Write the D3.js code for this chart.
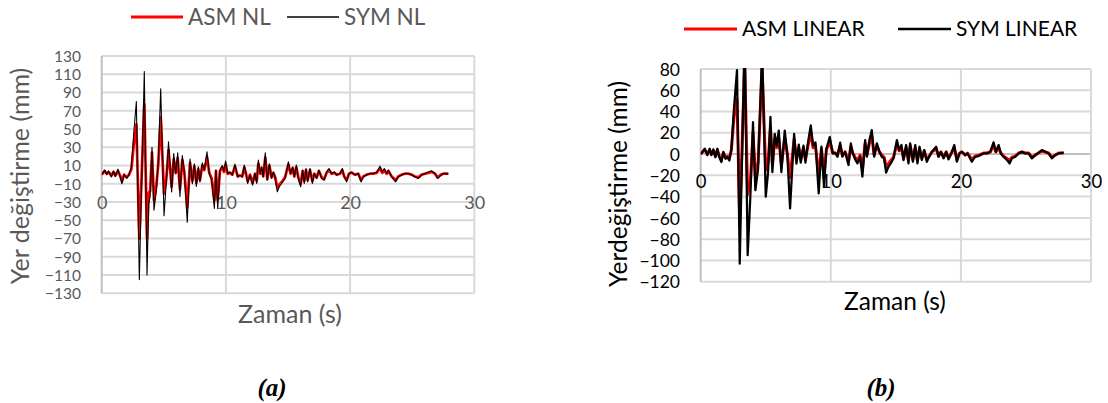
<!DOCTYPE html>
<html>
<head>
<meta charset="utf-8">
<script src="https://cdn.jsdelivr.net/npm/d3@7"></script>
<style>
  html, body { margin: 0; padding: 0; background: #fff; }
  svg { display: block; }
</style>
</head>
<body>
<svg id="chart" width="1108" height="403"></svg>
<script>
// ---------------- DATA ----------------
// Chart (a): nonlinear displacement time history
const timeA = [
  0, 0.24, 0.4, 0.55, 0.78, 0.95, 1.1, 1.31, 1.48, 1.63,
  1.8, 2.01, 2.2, 2.39, 2.6, 2.79, 3.03, 3.43, 3.65, 3.78,
  3.9, 4.05, 4.21, 4.4, 4.56, 4.75, 5.02, 5.2, 5.38, 5.63,
  5.8, 5.96, 6.12, 6.3, 6.49, 6.65, 6.89, 7.11, 7.3, 7.46,
  7.62, 7.78, 7.91, 8.1, 8.26, 8.48, 8.66, 8.85, 9.07, 9.2,
  9.34, 9.52, 9.71, 9.85, 9.98, 10.14, 10.33, 10.52, 10.73, 10.95,
  11.13, 11.32, 11.48, 11.62, 11.75, 11.94, 12.15, 12.34, 12.48, 12.61,
  12.77, 12.88, 13.01, 13.17, 13.33, 13.5, 13.68, 13.82, 13.95, 14.14,
  14.3, 14.49, 14.76, 15.03, 15.21, 15.38, 15.51, 15.67, 15.83, 16.02,
  16.18, 16.31, 16.45, 16.58, 16.77, 16.96, 17.12, 17.31, 17.49, 17.71,
  17.9, 18.11, 18.3, 18.51, 18.73, 18.92, 19.19, 19.37, 19.53, 19.72,
  19.91, 20.12, 20.39, 20.66, 20.88, 21.06, 21.33, 21.6, 21.87, 22.14,
  22.41, 22.59, 22.75, 22.94, 23.08, 23.35, 23.67, 23.88, 24.15, 24.42,
  24.69, 24.96, 25.22, 25.49, 25.76, 26.03, 26.3, 26.57, 26.84, 27.05,
  27.32, 27.51, 27.91
];
const symNL = [
  0, 5, 0, 4, -2.5, 4, -2, 6, -2, -10,
  0, -4, 0, 8.5, 49, 80, -115, 113, -110, -32,
  -24, 30, -39, -17, 16, 94, -45, -8, 36, -19,
  23, 1, 24, -24, 21, 3, -52, 17, -10, 12,
  -13, 8.5, -8, 13, 5, 25, 1, -6, -37, 5,
  -37, 5, 10, 4, 15, 1, 3, -0.5, 11.5, -2.4,
  -0.5, -2.4, 10.4, 1.3, -9.7, -0.5, -11.5, 1.3, -9.7, 16,
  1.3, 8.6, -2.4, 24, -6, 12, -4.2, 3, -2.4, -18.8,
  -13.3, -9.7, -4.2, 14, 1.3, 8.6, -2.4, 10.4, -4.2, -13.3,
  4.9, -9.7, 6.8, -7.9, 6.8, -9.7, 1.3, -4.2, 4.9, -4.2,
  -6, 3, 6.8, 1.3, 3, -0.5, 1.3, 6.8, -2.4, -7.9,
  1.3, 3, -0.5, 1.3, -7.9, -2.4, -0.5, 1.3, 1.3, 3,
  9.3, 3, 6.8, 1.3, 4.9, -2.4, -7.9, -2.4, -0.5, 1.3,
  1.3, -0.5, -2.4, -4.2, -0.5, 1.3, 3, 4.2, 1.3, -4.2,
  -0.5, 1.3, 0.6
];
const asmNL = [
  0, 4, 1, 3, -1, 3, -1, 4, -1, -7,
  0, -3, 0, 6, 35, 55, -70, 77, -70, -20,
  -18, 24, -28, -12, 12, 63, -21, -5, 27, -13,
  17, 2, 18, -16, 16, 3, -36, 13, -7, 9,
  -9, 6, -6, 10, 5, 19, 2, -4, -28, 4,
  -28, 4, 8, 3, 11, 1, 2, 0, 9, -2,
  -1, -2, 8, 1, -7, 0, -9, 1, -7, 12,
  1, 7, -2, 19, -5, 10, -3, 2, -2, -14,
  -11, -8, -3, 11, 1, 7, -2, 8, -3, -10,
  4, -7, 5, -6, 5, -7, 1, -3, 4, -3,
  -5, 2, 5, 1, 2, 0, 1, 5, -2, -6,
  1, 2, 0, 1, -6, -2, 0, 1, 1, 2,
  7, 2, 5, 1, 4, -2, -6, -2, 0, 1,
  1, 0, -2, -3, 0, 1, 2, 3, 1, -3,
  0, 1, 1
];

// Chart (b): linear displacement time history
const timeB = [
  0, 0.31, 0.51, 0.69, 0.82, 0.97, 1.13, 1.28, 1.43, 1.59,
  1.74, 1.9, 2.05, 2.2, 2.36, 2.56, 2.79, 3.0, 3.38, 3.61,
  3.82, 4.02, 4.2, 4.41, 4.72, 5.0, 5.18, 5.36, 5.51, 5.69,
  5.84, 6.0, 6.2, 6.46, 6.66, 6.87, 7.18, 7.36, 7.54, 7.69,
  7.9, 8.05, 8.25, 8.46, 8.64, 8.82, 9.07, 9.28, 9.48, 9.66,
  9.92, 10.15, 10.33, 10.51, 10.72, 10.89, 11.1, 11.36, 11.54, 11.69,
  11.87, 12.05, 12.25, 12.43, 12.64, 12.77, 12.97, 13.15, 13.33, 13.54,
  13.74, 13.92, 14.1, 14.25, 14.43, 14.61, 14.82, 15.08, 15.25, 15.43,
  15.59, 15.79, 15.97, 16.1, 16.31, 16.49, 16.66, 16.82, 17.0, 17.18,
  17.38, 17.56, 17.77, 18.1, 18.28, 18.46, 18.67, 18.87, 19.05, 19.31,
  19.49, 19.69, 19.9, 20.08, 20.33, 20.51, 20.84, 21.1, 21.36, 21.74,
  22.0, 22.26, 22.51, 22.69, 22.9, 23.07, 23.28, 23.54, 23.74, 23.92,
  24.18, 24.44, 24.69, 24.95, 25.2, 25.46, 25.72, 25.97, 26.23, 26.49,
  26.74, 27.0, 27.25, 27.51, 27.9
];
const symLinear = [
  0, 5, -1, 5, -1, 4.4, -3, 5, -3, -7.5,
  2, -4.4, -3, -6, 5, 43, 79, -103, 112, -95,
  -39, 30, -34, -14, 98, -40, -17, 35, -17, 19,
  8, 22, -17, 22, -1, -51, 19, -9, 9, -8,
  8, -8, 11, 27, 8, 11, -37, 7, -31, 5,
  16, 0.6, 1.3, -2.5, 10.7, -2.5, 2.2, -10.3, 10, 0.6,
  -5, -8.8, -2.5, -21.3, 13.2, -2.5, 13.2, 22.6, -2.5, 10,
  2.2, -2.5, -4, -17.5, -12, -8.8, -4, 13.2, 3.8, 8.5,
  -5.6, 8.5, -8.8, 10, -7.2, 8.5, -8.8, 6.9, -5.6, 3.8,
  -7.2, -2.5, 2.2, 6.9, -2.5, 2.2, -4, 2.2, -5, 2.2,
  8.5, -7.2, 0.6, 2.2, -0.9, 0.6, -7.2, -2.5, -1.9, 0.6,
  0.6, 2.2, 11, 2.2, 8.5, 0.6, -2.5, -5.6, -8.8, -4,
  -2.5, 0.6, 2.2, 0.6, 0.6, -4, -0.9, 1.3, 3.8, 2.2,
  0.6, -4, -0.9, 0.6, 1.3
];
const asmLinear = [
  0, 4, 0, 4, 0, 3, -2, 4, -2, -5,
  1, -3, -2, -4, 4, 35, 52, -62, 85, -38,
  -25, 20, -20, -8, 80, -15, -8, 25, -10, 14,
  6, 15, -10, 15, 0, -22, 14, -5, 6, -5,
  6, -5, 8, 20, 6, 8, -20, 5, -18, 4,
  12, 1, 1, -1, 8, -1, 2, -7, 7, 1,
  -3, -6, -1, -14, 10, -1, 10, 17, -1, 8,
  2, -1, -3, -12, -9, -6, -3, 10, 3, 6,
  -4, 6, -6, 8, -5, 6, -6, 5, -4, 3,
  -5, -2, 2, 5, -2, 2, -3, 2, -4, 2,
  6, -5, 1, 2, -1, 1, -5, -2, -1, 1,
  1, 2, 8, 2, 6, 1, -2, -4, -6, -3,
  -2, 1, 2, 1, 1, -3, -1, 1, 3, 2,
  1, -3, -1, 1, 1
];

const xTicks = [0, 10, 20, 30];
const yTicksA = d3.range(-130, 131, 20);
const yTicksB = d3.range(-120, 81, 20);

const seriesNamesA = ["ASM NL", "SYM NL"];
const seriesNamesB = ["ASM LINEAR", "SYM LINEAR"];
const yTitleA = "Yer değiştirme (mm)";
const yTitleB = "Yerdeğiştirme (mm)";
const xTitle = "Zaman (s)";

// ---------------- DRAW ----------------
const svg = d3.select("#chart");
const FONT = "Lato, 'Open Sans', sans-serif";

function drawPanel(cfg) {
  const x = d3.scaleLinear().domain([0, 30]).range([cfg.left, cfg.right]);
  const y = d3.scaleLinear().domain(cfg.yDomain).range([cfg.bottom, cfg.top]);
  const g = svg.append("g");

  // horizontal gridlines
  g.append("g").selectAll("line").data(cfg.yTicks).join("line")
    .attr("x1", cfg.left).attr("x2", cfg.right)
    .attr("y1", d => y(d)).attr("y2", d => y(d))
    .attr("stroke", d => d === 0 ? "#bfbfbf" : "#d9d9d9")
    .attr("stroke-width", 2);
  // vertical gridlines
  g.append("g").selectAll("line").data(xTicks).join("line")
    .attr("x1", d => x(d)).attr("x2", d => x(d))
    .attr("y1", cfg.top).attr("y2", cfg.bottom)
    .attr("stroke", d => d === 0 ? "#bfbfbf" : "#d9d9d9")
    .attr("stroke-width", 2);

  // y axis labels
  const yAxis = d3.axisLeft(y).tickValues(cfg.yTicks).tickSize(0).tickPadding(0);
  const ya = g.append("g").attr("transform", `translate(${cfg.yLabelRight},0)`).call(yAxis);
  ya.select(".domain").remove();
  ya.selectAll("text")
    .attr("font-family", FONT).attr("font-size", cfg.tickSize)
    .attr("fill", cfg.textColor).attr("dy", "0.35em");

  // x axis labels at zero line
  const xAxis = d3.axisBottom(x).tickValues(xTicks).tickSize(0).tickPadding(0);
  const xa = g.append("g").attr("transform", `translate(0,${y(0)})`).call(xAxis);
  xa.select(".domain").remove();
  xa.selectAll("text")
    .attr("font-family", FONT).attr("font-size", cfg.xTickSize)
    .attr("fill", cfg.textColor).attr("y", cfg.xLabelOffset).attr("dy", "0.35em");

  // clip
  const clipId = "clip" + cfg.id;
  svg.append("clipPath").attr("id", clipId).append("rect")
    .attr("x", cfg.left).attr("y", cfg.top - 1)
    .attr("width", cfg.right - cfg.left).attr("height", cfg.bottom - cfg.top + 2);

  const line = d3.line().x(d => x(d[0])).y(d => y(d[1]));
  const plot = g.append("g").attr("clip-path", `url(#${clipId})`);
  cfg.series.forEach(s => {
    plot.append("path")
      .datum(cfg.time.map((t, i) => [t, s.values[i]]))
      .attr("d", line)
      .attr("fill", "none")
      .attr("stroke", s.color)
      .attr("stroke-width", s.width)
      .attr("stroke-linejoin", "round");
  });

  // legend
  cfg.series.forEach((s, i) => {
    const lx = cfg.legendX[i];
    g.append("line")
      .attr("x1", lx).attr("x2", lx + cfg.legendLineLen)
      .attr("y1", cfg.legendY).attr("y2", cfg.legendY)
      .attr("stroke", s.color).attr("stroke-width", s.legendWidth);
    g.append("text")
      .attr("x", lx + cfg.legendLineLen + 5).attr("y", cfg.legendY)
      .attr("dy", "0.35em")
      .attr("font-family", FONT).attr("font-size", cfg.legendSize)
      .attr("fill", cfg.textColor).text(s.name);
  });

  // y title
  g.append("text")
    .attr("transform", `translate(${cfg.yTitleX},${cfg.yTitleY}) rotate(-90)`)
    .attr("text-anchor", "middle")
    .attr("font-family", FONT).attr("font-size", cfg.titleSize)
    .attr("fill", cfg.textColor).text(cfg.yTitle);
  // x title
  g.append("text")
    .attr("x", cfg.xTitleX).attr("y", cfg.xTitleY)
    .attr("text-anchor", "middle")
    .attr("font-family", FONT).attr("font-size", cfg.titleSize)
    .attr("fill", cfg.textColor).text(xTitle);
  // panel label
  g.append("text")
    .attr("x", cfg.panelX).attr("y", 396)
    .attr("text-anchor", "middle")
    .attr("font-family", "'Liberation Serif', 'Times New Roman', serif")
    .attr("font-style", "italic").attr("font-weight", "bold")
    .attr("font-size", 25).attr("fill", "#000").text(cfg.panel);
}

drawPanel({
  id: "A", left: 101.7, right: 474.3, top: 56, bottom: 293.3,
  yDomain: [-130, 130], yTicks: yTicksA, yLabelRight: 81,
  tickSize: 15.5, xTickSize: 18, legendSize: 22.5, titleSize: 25, textColor: "#595959",
  xLabelOffset: 28,
  time: timeA,
  series: [
    { name: seriesNamesA[0], values: asmNL, color: "#ff0000", width: 2.75, legendWidth: 3 },
    { name: seriesNamesA[1], values: symNL, color: "#000000", width: 1.1, legendWidth: 1.3 }
  ],
  legendX: [131, 287], legendLineLen: 52, legendY: 17,
  yTitle: yTitleA, yTitleX: 29, yTitleY: 176,
  xTitleX: 290, xTitleY: 323,
  panelX: 272, panel: "(a)"
});

drawPanel({
  id: "B", left: 700.7, right: 1091, top: 69, bottom: 281.7,
  yDomain: [-120, 80], yTicks: yTicksB, yLabelRight: 680,
  tickSize: 17.5, xTickSize: 18.5, legendSize: 21, titleSize: 24.5, textColor: "#000000",
  xLabelOffset: 27.5,
  time: timeB,
  series: [
    { name: seriesNamesB[0], values: asmLinear, color: "#ff0000", width: 3, legendWidth: 3 },
    { name: seriesNamesB[1], values: symLinear, color: "#000000", width: 2.25, legendWidth: 2.5 }
  ],
  legendX: [684, 898], legendLineLen: 53, legendY: 29,
  yTitle: yTitleB, yTitleX: 627, yTitleY: 184,
  xTitleX: 895, xTitleY: 310,
  panelX: 881, panel: "(b)"
});
</script>
</body>
</html>
